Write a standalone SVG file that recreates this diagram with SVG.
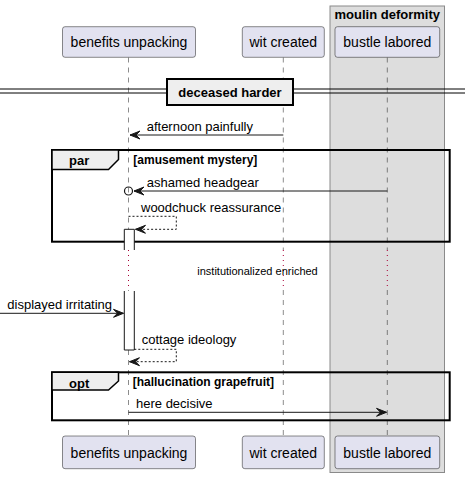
<svg xmlns="http://www.w3.org/2000/svg" width="465" height="478" viewBox="0 0 465 478">
<style>
.t{font-family:"Liberation Sans",Arial,sans-serif;fill:#000}
.p{font-size:14px}
.m{font-size:13px}
.b{font-size:13px;font-weight:bold}
.g{font-size:12px;font-weight:bold}
.s{font-size:11px}
.pb{fill:#E2E2F0;stroke:#181818;stroke-width:0.5}
.ll{stroke:#181818;stroke-width:0.5;stroke-dasharray:5,5;fill:none}
.dl{stroke:#A80036;stroke-width:1;stroke-dasharray:1,4;fill:none}
.ml{stroke:#181818;stroke-width:1;fill:none}
.md{stroke:#181818;stroke-width:1;stroke-dasharray:2,2;fill:none}
.fr{fill:none;stroke:#000;stroke-width:2}
.tab{fill:#EEEEEE;stroke:#000;stroke-width:1.5}
.act{fill:#FFFFFF;stroke:#181818;stroke-width:1}
</style>
<defs>
<marker id="arr" markerWidth="13" markerHeight="11" refX="10.5" refY="5" orient="auto" markerUnits="userSpaceOnUse" viewBox="0 0 13 11">
<polygon points="0.5,1 10.5,5 0.5,9 4.5,5" fill="#181818" stroke="#181818" stroke-width="1" stroke-linejoin="round"/>
</marker>
</defs>
<g id="box-moulin">
<rect x="330" y="6" width="114.5" height="466.5" fill="#DDDDDD" stroke="#8A8A8A" stroke-width="1"/>
<text class="t b" x="387.3" y="18.5" text-anchor="middle">moulin deformity</text>
</g>
<g id="lifelines">
<path class="ll" d="M128.5,57.5V250M128.5,290V436"/>
<path class="ll" d="M283.3,57.5V250M283.3,290V436"/>
<path class="ll" d="M387.3,57.5V250M387.3,290V436"/>
<path class="dl" d="M128.5,250V290M283.3,250V290M387.3,250V290"/>
</g>
<g id="p-benefits">
<rect class="pb" x="62.5" y="26.7" width="133" height="30.6" rx="2.5"/>
<text class="t p" x="129" y="47.3" text-anchor="middle">benefits unpacking</text>
<rect class="pb" x="62.5" y="436" width="133" height="32.7" rx="2.5"/>
<text class="t p" x="129" y="457.5" text-anchor="middle">benefits unpacking</text>
</g>
<g id="p-wit">
<rect class="pb" x="242.3" y="26.7" width="82" height="30.6" rx="2.5"/>
<text class="t p" x="283.3" y="47.3" text-anchor="middle">wit created</text>
<rect class="pb" x="242.3" y="436" width="82" height="32.7" rx="2.5"/>
<text class="t p" x="283.3" y="457.5" text-anchor="middle">wit created</text>
</g>
<g id="p-bustle">
<rect class="pb" x="335" y="26.7" width="104.7" height="30.6" rx="2.5"/>
<text class="t p" x="387.3" y="47.3" text-anchor="middle">bustle labored</text>
<rect class="pb" x="335" y="436" width="104.7" height="32.7" rx="2.5"/>
<text class="t p" x="387.3" y="457.5" text-anchor="middle">bustle labored</text>
</g>
<g id="divider">
<line x1="0" y1="89" x2="465" y2="89" stroke="#000" stroke-width="1"/>
<line x1="0" y1="93" x2="465" y2="93" stroke="#000" stroke-width="1"/>
<rect x="167" y="79" width="126" height="26" fill="#EEEEEE" stroke="#000" stroke-width="2"/>
<text class="t b" x="230" y="96.5" text-anchor="middle">deceased harder</text>
</g>
<g id="frame-par">
<rect class="fr" x="52" y="150" width="397.7" height="91.7"/>
<path class="tab" d="M52,150H118.5V159.5L108.5,169.5H52Z"/>
<text class="t b" x="69" y="165">par</text>
<text class="t g" x="133.3" y="163.5">[amusement mystery]</text>
</g>
<g id="frame-opt">
<rect class="fr" x="52" y="372.3" width="397.7" height="48"/>
<path class="tab" d="M52,372.3H118.5V381L108.5,390H52Z"/>
<text class="t b" x="69" y="387.5">opt</text>
<text class="t g" x="132.7" y="385.5">[hallucination grapefruit]</text>
</g>
<g id="activations">
<path class="act" d="M124.3,250V229.3H134.3V250"/>
<path class="act" d="M124.3,291V350H134.3V291"/>
</g>
<g id="connectors">
<line class="ml" x1="283.3" y1="135" x2="130" y2="135" marker-end="url(#arr)"/>
<text class="t m" x="146.7" y="131">afternoon painfully</text>
<line class="ml" x1="387.3" y1="191" x2="134" y2="191" marker-end="url(#arr)"/>
<circle cx="128.5" cy="191" r="4" fill="none" stroke="#181818" stroke-width="1.2"/>
<text class="t m" x="146.7" y="187">ashamed headgear</text>
<path class="md" d="M128.5,216.3H176.3V229.3H135.5" marker-end="url(#arr)"/>
<text class="t m" x="141" y="211.5">woodchuck reassurance</text>
<text class="t s" x="257.5" y="274.5" text-anchor="middle">institutionalized enriched</text>
<line class="ml" x1="0" y1="313.3" x2="123.5" y2="313.3" marker-end="url(#arr)"/>
<text class="t m" x="7.3" y="309">displayed irritating</text>
<path class="md" d="M134.3,349.3H176.3V361.7H129.5" marker-end="url(#arr)"/>
<text class="t m" x="141.7" y="344">cottage ideology</text>
<line class="ml" x1="128.5" y1="412.3" x2="386.5" y2="412.3" marker-end="url(#arr)"/>
<text class="t m" x="136" y="408">here decisive</text>
</g>
</svg>
